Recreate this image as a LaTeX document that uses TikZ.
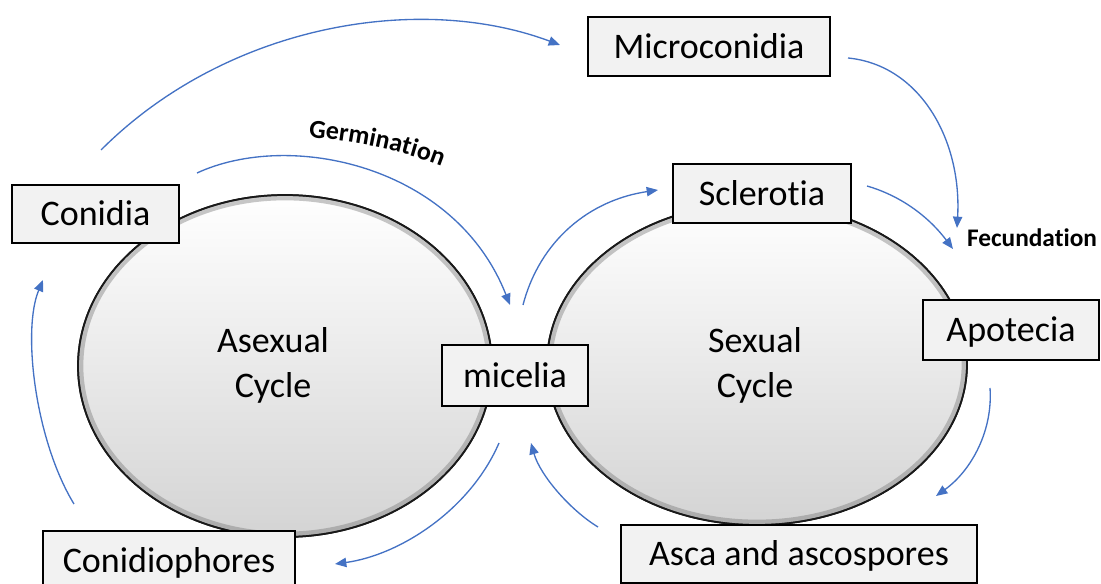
\documentclass[tikz,border=0pt]{standalone}
\usepackage{fontspec}
\setmainfont{Carlito}[Ligatures=NoCommon]
\usetikzlibrary{arrows.meta,decorations.text}
\definecolor{arrowblue}{RGB}{68,114,196}
\definecolor{boxfill}{RGB}{242,242,242}
\begin{document}
\begin{tikzpicture}[x=0.75pt,y=-0.75pt,
  box/.style={draw=black, line width=1.1pt, fill=boxfill, inner sep=0pt,
    font=\fontsize{27}{32}\selectfont, text height=17.3pt, text depth=0pt},
  flow/.style={draw=arrowblue, line width=1pt, -{Triangle[length=8.5pt,width=7pt]}},
  cyc/.style={top color=white, bottom color=black!17, draw=black!90, line width=1.3pt},
  glow/.style={draw=black!55, line width=8pt, opacity=.4},
  lbl/.style={font=\fontsize{27}{33.75}\selectfont, align=center},
  small/.style={font=\bfseries\fontsize{19}{22}\selectfont},
]
\useasboundingbox (0,0) rectangle (1101,584);
\clip (0,0) rectangle (1101,584);

% cycles
\path[cyc] (285,366) ellipse [x radius=207, y radius=171];
\begin{scope}
  \clip (285,366) ellipse [x radius=207, y radius=171];
  \draw[glow] (285,366) ellipse [x radius=207, y radius=171];
\end{scope}
\draw[draw=black!90, line width=1.3pt] (285,366) ellipse [x radius=207, y radius=171];

\path[cyc] (757,364) ellipse [x radius=210, y radius=161];
\begin{scope}
  \clip (757,364) ellipse [x radius=210, y radius=161];
  \draw[glow] (757,364) ellipse [x radius=210, y radius=161];
\end{scope}
\draw[draw=black!90, line width=1.3pt] (757,364) ellipse [x radius=210, y radius=161];

\node[lbl] (asex) at (273,365) {Asexual\\Cycle};
\node[lbl] (sex) at (755,365) {Sexual\\Cycle};

% boxes
\node[box, minimum width=125.25pt, minimum height=43.5pt] (conidia) at (95.5,214) {Conidia};
\node[box, minimum width=181.5pt, minimum height=44.25pt] (micro) at (709,46.5) {Microconidia};
\node[box, minimum width=133.5pt, minimum height=44.25pt] (scler) at (762,193.5) {Sclerotia};
\node[box, minimum width=132pt, minimum height=45pt] (apot) at (1011,330) {Apotecia};
\node[box, minimum width=109.5pt, minimum height=45.75pt] (mic) at (515,375.5) {micelia};
\node[box, minimum width=189pt, minimum height=45pt] (conph) at (169,561) {Conidiophores};
\node[box, minimum width=267pt, minimum height=43.5pt] (asca) at (799,554) {Asca and ascospores};

% labels
\node[small] (fec) at (1032,238) {Fecundation};
\path[decorate, decoration={text along path, text align=center,
   text={|\bfseries\fontsize{19.5}{22}\selectfont|Germination}}]
   (304,137) .. controls (345,140) and (400,149) .. (446,168);

% connector end points
\coordinate (a1s) at (101,150);  \coordinate (a1e) at (560,45);
\coordinate (a2s) at (197,173);  \coordinate (a2e) at (510,305);
\coordinate (a3s) at (848,58);   \coordinate (a3e) at (957,228);
\coordinate (a4s) at (867,186);  \coordinate (a4e) at (953,249);
\coordinate (a5s) at (523,305);  \coordinate (a5e) at (658,190);
\coordinate (a6s) at (990,388);  \coordinate (a6e) at (936,496);
\coordinate (a7s) at (598,527);  \coordinate (a7e) at (531,443);
\coordinate (a8s) at (499,443);  \coordinate (a8e) at (335,564);
\coordinate (a9s) at (74,504);   \coordinate (a9e) at (43,280);

% connectors
\draw[flow] (a1s) .. controls (226,25) and (418,-8) .. (a1e);
\draw[flow] (a2s) .. controls (290,130) and (455,165) .. (a2e);
\draw[flow] (a3s) .. controls (920,65) and (962,140) .. (a3e);
\draw[flow] (a4s) .. controls (895,194) and (925,212) .. (a4e);
\draw[flow] (a5s) .. controls (540,240) and (590,200) .. (a5e);
\draw[flow] (a6s) .. controls (993,430) and (972,470) .. (a6e);
\draw[flow] (a7s) .. controls (570,510) and (540,475) .. (a7e);
\draw[flow] (a8s) .. controls (470,510) and (400,555) .. (a8e);
\draw[flow] (a9s) .. controls (35,440) and (22,330) .. (a9e);
\end{tikzpicture}
\end{document}
